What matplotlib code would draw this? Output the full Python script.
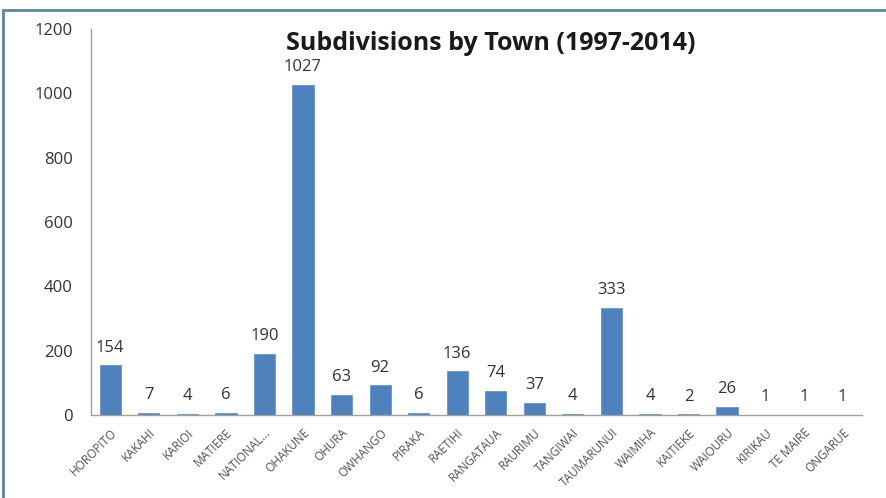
import matplotlib
matplotlib.use("Agg")
import matplotlib.pyplot as plt
from matplotlib.patches import Rectangle

towns = ["HOROPITO", "KAKAHI", "KARIOI", "MATIERE", "NATIONAL...", "OHAKUNE", "OHURA",
         "OWHANGO", "PIRAKA", "RAETIHI", "RANGATAUA", "RAURIMU", "TANGIWAI", "TAUMARUNUI",
         "WAIMIHA", "KAITIEKE", "WAIOURU", "KIRIKAU", "TE MAIRE", "ONGARUE"]
subdivisions = [154, 7, 4, 6, 190, 1027, 63, 92, 6, 136, 74, 37, 4, 333, 4, 2, 26, 1, 1, 1]
yticks = [0, 200, 400, 600, 800, 1000, 1200]

plt.rcParams['font.family'] = ['Open Sans', 'DejaVu Sans']

fig = plt.figure(figsize=(8.87, 4.98), dpi=100)
ax = fig.add_axes([0.1026, 0.1667, 0.8692, 0.7751])

x = range(len(towns))
bars = ax.bar(x, subdivisions, width=0.55, color="#4F81BD",
              edgecolor="#6A93C6", linewidth=0.6)
for xi, v in zip(x, subdivisions):
    ax.annotate(str(v), (xi, v), xytext=(0, 7), textcoords="offset points",
                ha="center", va="bottom", fontsize=12, color="#333333")

ax.set_xlim(-0.5, len(towns) - 0.5)
ax.set_ylim(0, 1200)
ax.set_yticks(yticks)
ax.set_yticklabels([str(t) for t in yticks], fontsize=12, color="#333333")
ax.set_xticks(list(x))
ax.set_xticklabels(towns, rotation=45, ha="right", rotation_mode="anchor",
                   fontsize=8.5, color="#505050")
ax.tick_params(length=0, axis="y", pad=13)
ax.tick_params(length=0, axis="x", pad=8)

for s in ["top", "right"]:
    ax.spines[s].set_visible(False)
for s in ["left", "bottom"]:
    ax.spines[s].set_color("#A0A0A0")
    ax.spines[s].set_linewidth(1)

fig.text(0.553, 0.912, "Subdivisions by Town (1997-2014)", ha="center", va="center",
         fontsize=18, fontweight="bold", color="#1a1a1a")

# chart frame
fig.patches.append(Rectangle((3 / 887, -0.05), 1.0, 1 - 10 / 498 + 0.05,
                             transform=fig.transFigure, fill=False,
                             edgecolor="#5F8797", linewidth=2))

fig.savefig("out.png", dpi=100)
